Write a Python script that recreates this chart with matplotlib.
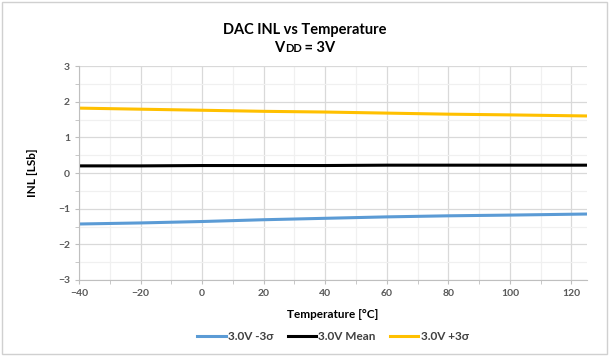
import numpy as np
import matplotlib.pyplot as plt
from matplotlib.ticker import MultipleLocator
from matplotlib.patches import Rectangle
from matplotlib.offsetbox import TextArea, HPacker, AnnotationBbox

plt.rcParams['font.family'] = ['Lato', 'DejaVu Sans']

# data
temps = [-40, -20, 0, 20, 40, 60, 80, 100, 125]
minus3 = [-1.43, -1.40, -1.36, -1.31, -1.27, -1.23, -1.20, -1.18, -1.15]
mean = [0.20, 0.20, 0.21, 0.21, 0.21, 0.22, 0.22, 0.22, 0.22]
plus3 = [1.82, 1.79, 1.76, 1.73, 1.71, 1.68, 1.65, 1.63, 1.60]

fig = plt.figure(figsize=(6.10, 3.56), dpi=100)
ax = fig.add_axes([0.1295, 0.2135, 0.8325, 0.601])

ax.plot(temps, minus3, color='#5b9bd5', lw=2.2, label='3.0V -3σ')
ax.plot(temps, mean, color='black', lw=2.2, label='3.0V Mean')
ax.plot(temps, plus3, color='#ffc000', lw=2.2, label='3.0V +3σ')

ax.set_xlim(-40, 125)
ax.set_ylim(-3, 3)
ax.xaxis.set_major_locator(MultipleLocator(20))
ax.xaxis.set_minor_locator(MultipleLocator(10))
ax.yaxis.set_major_locator(MultipleLocator(1))
ax.yaxis.set_minor_locator(MultipleLocator(0.5))
ax.grid(which='major', color='#d9d9d9', lw=0.9)
ax.grid(which='minor', color='#f0f0f0', lw=0.9)
ax.set_axisbelow(True)

for s in ['top', 'right']:
    ax.spines[s].set_visible(False)
for s in ['left', 'bottom']:
    ax.spines[s].set_color('#bfbfbf')
ax.tick_params(which='both', colors='#bfbfbf', labelcolor='#595959', labelsize=7.5, length=3)
for lbl in ax.get_xticklabels() + ax.get_yticklabels():
    lbl.set_fontweight('bold')

ax.set_xlabel('Temperature [°C]', fontsize=8.5, fontweight='bold', labelpad=8)
ax.set_ylabel('INL [LSb]', fontsize=8.5, fontweight='bold', labelpad=14)

fig.text(0.5, 0.905, 'DAC INL vs Temperature', ha='center', fontsize=10.5, fontweight='bold')
# second title line: V with small-caps DD on the baseline
parts = HPacker(children=[TextArea('V', textprops=dict(size=10.5, weight='bold')),
                          TextArea('DD', textprops=dict(size=8, weight='bold')),
                          TextArea(' = 3V', textprops=dict(size=10.5, weight='bold'))],
                align='baseline', pad=0, sep=0)
fig.add_artist(AnnotationBbox(parts, (0.5, 0.865), xycoords='figure fraction',
                              frameon=False, box_alignment=(0.5, 0.5), pad=0))

ax.legend(loc='center', bbox_to_anchor=(0.5, -0.265), ncol=3, frameon=False,
          handlelength=2.4, handletextpad=0.2, columnspacing=1.2,
          prop={'weight': 'bold', 'size': 8.5})
leg = ax.get_legend()
for t in leg.get_texts():
    t.set_color('#404040')

fig.patches.append(Rectangle((0.003, 0.006), 0.992, 0.988, transform=fig.transFigure,
                             fill=False, edgecolor='#d0d0d0', lw=1))

fig.savefig('out.png', dpi=100)
